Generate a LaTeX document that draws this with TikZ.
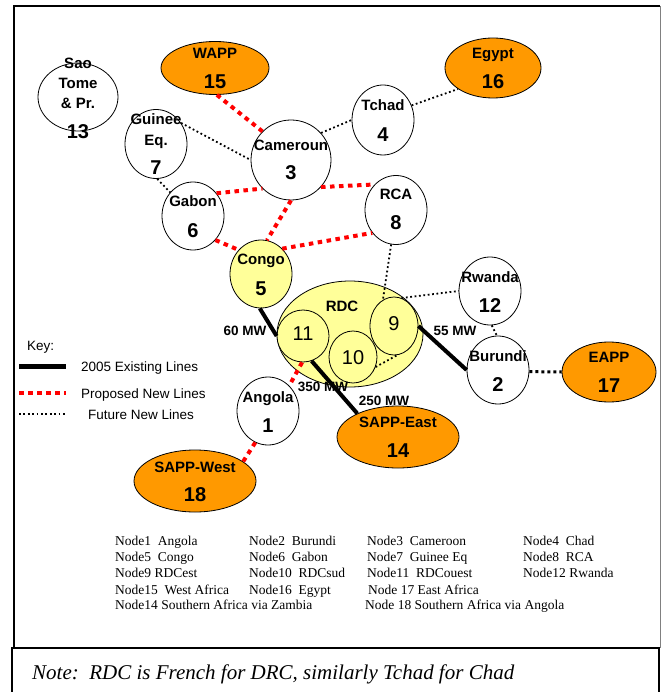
\documentclass[tikz,border=0pt]{standalone}
\usepackage{fontspec}
\setmainfont{Liberation Serif}
\setsansfont{Liberation Sans}
\usetikzlibrary{shapes.geometric}
\definecolor{orng}{HTML}{FF9900}
\definecolor{ylw}{HTML}{FFFF99}
\definecolor{rd}{HTML}{FF0000}
\begin{document}
\begin{tikzpicture}[x=1pt,y=-1pt,
  el/.style n args={2}{ellipse,draw=black,line width=0.8pt,inner sep=0pt,minimum width=#1,minimum height=#2},
  lbl/.style={anchor=base,inner sep=0pt,font=\sffamily\bfseries\fontsize{15}{15}\selectfont},
  num/.style={anchor=base,inner sep=0pt,font=\sffamily\bfseries\fontsize{20}{20}\selectfont},
  inum/.style={anchor=base,inner sep=0pt,font=\sffamily\fontsize{20}{20}\selectfont},
  mw/.style={anchor=base,inner sep=0pt,font=\sffamily\bfseries\fontsize{13.5}{14}\selectfont},
  keytxt/.style={anchor=base west,inner sep=0pt,font=\sffamily\fontsize{13.5}{14}\selectfont},
  tbl/.style={anchor=base west,inner sep=0pt,font=\rmfamily\fontsize{13.5}{14}\selectfont},
  prop/.style={draw=rd,line width=4pt,dash pattern=on 4.5pt off 4.5pt},
  fut/.style={draw=black,line width=1.8pt,dash pattern=on 1.8pt off 2.6pt},
  futb/.style={draw=black,line width=3pt,dash pattern=on 3pt off 3pt},
  exist/.style={draw=black,line width=4pt}
]
\useasboundingbox (0,0) rectangle (661,692);
% frames
\draw[gray,line width=0.8pt] (660,6) -- (660,648);
\draw[line width=1.6pt] (660,6) -- (14,6) -- (14,648);
\draw[line width=1.6pt] (12,692) -- (12,648) -- (659,648) -- (659,692);

% shapes
\node[el={80}{68}] (n13) at (78,97) {};
\node[el={108}{53},fill=orng] (n15) at (215,68) {};
\node[el={96}{60},fill=orng] (n16) at (493,68) {};
\node[el={62}{70}] (n4) at (383,120) {};
\node[el={62}{69}] (n7) at (156,144) {};
\node[el={80}{80}] (n3) at (291,160) {};
\node[el={62}{68}] (n6) at (193,216) {};
\node[el={62}{69}] (n8) at (396,210) {};
\node[el={62}{68},fill=ylw] (n5) at (261,274) {};
\node[el={146}{106},fill=ylw] (rdc) at (350,334) {};
\node[el={52}{52},fill=ylw] (n11) at (303,336) {};
\node[el={48}{52},fill=ylw] (n10) at (353,357) {};
\node[el={48}{58},fill=ylw] (n9) at (394,326) {};
\node[el={62}{68}] (n12) at (490,291) {};
\node[el={62}{68}] (n2) at (498,370) {};
\node[el={94}{60},fill=orng] (n17) at (609,372) {};
\node[el={122}{62},fill=orng] (n14) at (398,437) {};
\node[el={62}{68}] (n1) at (268,411) {};
\node[el={122}{62},fill=orng] (n18) at (195,481) {};

% connectors: proposed
\draw[prop] (n15.-86) -- (n3.135);
\draw[prop] (n6.44) -- (n3.225);
\draw[prop] (n3.-42) -- (n8.130);
\draw[prop] (n3.-90) -- (n5.80);
\draw[prop] (n6.-47) -- (n5.133);
\draw[prop] (n5.50) -- (n8.-136);
\draw[prop] (n11.-92) -- (n1.50);
\draw[prop] (n1.-112) -- (n18.22);
% future
\draw[fut] (n7.40) -- (n3.180);
\draw[fut] (n7.-88) -- (n6.134);
\draw[fut] (n3.42) -- (n4.180);
\draw[fut] (n4.27) -- (n16.-149);
\draw[fut] (n8.-98) -- (n9.113);
\draw[fut] (n9.75) -- (n12.180);
\draw[fut] (n12.-87) -- (n2.92);
\draw[fut] (n10.-24) -- (n9.-84);
\draw[futb] (n2.-3) -- (n17.180);
% existing
\draw[exist] (n5.-92) -- (n11.180);
\draw[exist] (n11.-71) -- (n14.150);
\draw[exist] (n9.0) -- (n2.180);

% labels
\node[lbl] (t13a) at (78,69) {Sao};
\node[lbl] (t13b) at (78,89) {Tome};
\node[lbl] (t13c) at (78,109) {\& Pr.};
\node[num] (t13d) at (78,139) {13};
\node[lbl] (t15a) at (215,59) {WAPP};
\node[num] (t15b) at (215,89) {15};
\node[lbl] (t16a) at (493,59) {Egypt};
\node[num] (t16b) at (493,89) {16};
\node[lbl] (t4a) at (383,111) {Tchad};
\node[num] (t4b) at (383,142) {4};
\node[lbl] (t7a) at (156,125) {Guinee};
\node[lbl] (t7b) at (156,146) {Eq.};
\node[num] (t7c) at (156,175) {7};
\node[lbl] (t3a) at (291,151) {Cameroun};
\node[num] (t3b) at (291,180) {3};
\node[lbl] (t6a) at (193,207) {Gabon};
\node[num] (t6b) at (193,237) {6};
\node[lbl] (t8a) at (396,200) {RCA};
\node[num] (t8b) at (396,230) {8};
\node[lbl] (t5a) at (261,265) {Congo};
\node[num] (t5b) at (261,295) {5};
\node[lbl] (trdc) at (342,311) {RDC};
\node[inum] (t11) at (303,340) {11};
\node[inum] (t10) at (353,364) {10};
\node[inum] (t9) at (394,330) {9};
\node[lbl] (t12a) at (490,282) {Rwanda};
\node[num] (t12b) at (490,312) {12};
\node[lbl] (t2a) at (498,361) {Burundi};
\node[num] (t2b) at (498,391) {2};
\node[lbl] (t17a) at (609,362) {EAPP};
\node[num] (t17b) at (609,392) {17};
\node[lbl] (t14a) at (398,427) {SAPP-East};
\node[num] (t14b) at (398,457) {14};
\node[lbl] (t1a) at (268,402) {Angola};
\node[num] (t1b) at (268,432) {1};
\node[lbl] (t18a) at (195,472) {SAPP-West};
\node[num] (t18b) at (195,501) {18};

\node[mw] (mw60) at (245,335) {60 MW};
\node[mw] (mw55) at (455,335) {55 MW};
\node[mw] (mw350) at (323,391) {350 MW};
\node[mw] (mw250) at (384,405) {250 MW};

% key
\node[keytxt] (key) at (27,350) {Key:};
\coordinate (k1a) at (19,366); \coordinate (k1b) at (66,366);
\coordinate (k2a) at (19,393); \coordinate (k2b) at (66,393);
\coordinate (k3a) at (19,414); \coordinate (k3b) at (66,414);
\draw[exist,line width=5pt] (k1a) -- (k1b);
\draw[prop] (k2a) -- (k2b);
\draw[fut,line width=1.6pt] (k3a) -- (k3b);
\node[keytxt] (kt1) at (81,371) {2005 Existing Lines};
\node[keytxt] (kt2) at (81,398) {Proposed New Lines};
\node[keytxt] (kt3) at (88,419) {Future New Lines};

% table
\node[tbl] (r1a) at (115,545) {Node1\ \ Angola};
\node[tbl] (r1b) at (249,545) {Node2\ \ Burundi};
\node[tbl] (r1c) at (367,545) {Node3\ \ Cameroon};
\node[tbl] (r1d) at (523,545) {Node4\ \ Chad};
\node[tbl] (r2a) at (115,561) {Node5\ \ Congo};
\node[tbl] (r2b) at (249,561) {Node6\ \ Gabon};
\node[tbl] (r2c) at (367,561) {Node7\ \ Guinee Eq};
\node[tbl] (r2d) at (523,561) {Node8\ \ RCA};
\node[tbl] (r3a) at (115,577) {Node9 RDCest};
\node[tbl] (r3b) at (249,577) {Node10\ \ RDCsud};
\node[tbl] (r3c) at (367,577) {Node11\ \ RDCouest};
\node[tbl] (r3d) at (523,577) {Node12 Rwanda};
\node[tbl] (r4a) at (115,594) {Node15\ \ West Africa};
\node[tbl] (r4b) at (249,594) {Node16\ \ Egypt};
\node[tbl] (r4c) at (368,594) {Node 17 East Africa};
\node[tbl] (r5a) at (115,609) {Node14 Southern Africa via Zambia};
\node[tbl] (r5b) at (365,609) {Node 18 Southern Africa via Angola};

% note
\node[anchor=base west,inner sep=0pt,font=\rmfamily\itshape\fontsize{21}{21}\selectfont] (note) at (32,679) {Note:\ \ RDC is French for DRC, similarly Tchad for Chad};
\end{tikzpicture}
\end{document}
